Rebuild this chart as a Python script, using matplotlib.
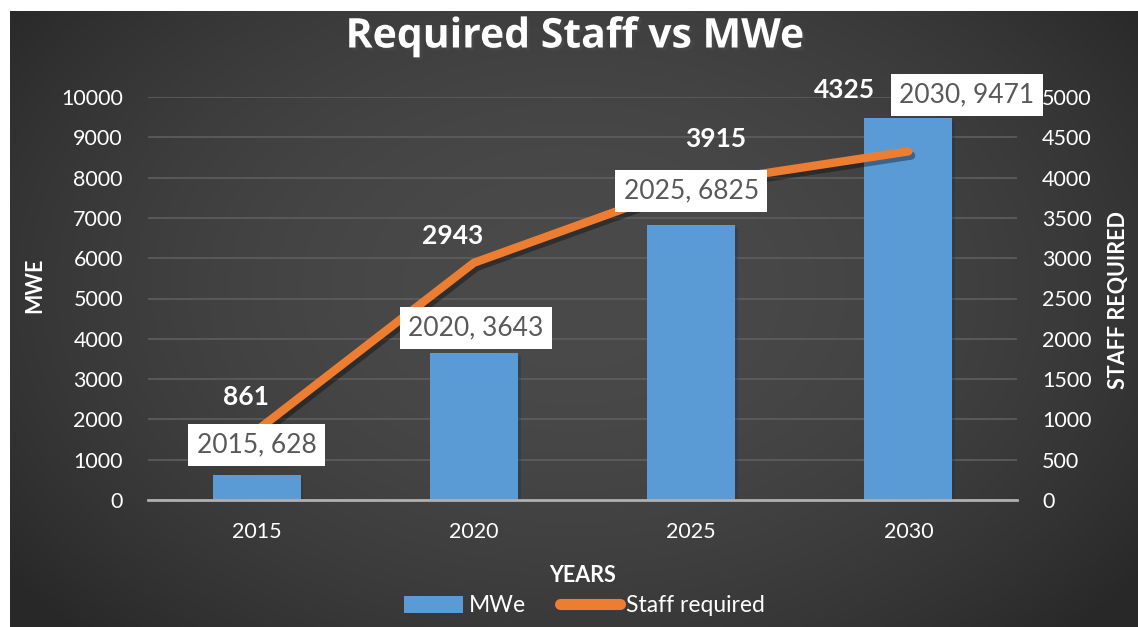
import matplotlib
matplotlib.use("Agg")
import matplotlib.pyplot as plt
import matplotlib.patheffects as pe
from matplotlib.lines import Line2D
from matplotlib.patches import Patch
import numpy as np

plt.rcParams['font.family'] = ['Lato', 'DejaVu Sans']

years = ['2015', '2020', '2025', '2030']
mwe = [628, 3643, 6825, 9471]
staff = [861, 2943, 3915, 4325]

W, H = 1138, 627
fig = plt.figure(figsize=(W / 100, H / 100), dpi=100)
fig.patch.set_facecolor('white')

# dark radial-ish background, white margin top/left
bg = fig.add_axes([10 / W, 0, 1 - 10 / W, (H - 11) / H])
bg.set_axis_off()
yy, xx = np.mgrid[0:1:300j, 0:1:600j]
r = np.sqrt(((xx - 0.5) / 0.6) ** 2 + ((yy - 0.45) / 0.75) ** 2)
g = np.clip(0.29 - 0.12 * r ** 2, 0.16, 0.3)
bg.imshow(np.dstack([g, g, g]), aspect='auto', extent=[0, 1, 0, 1], interpolation='bilinear')
bg.set_xlim(0, 1)
bg.set_ylim(0, 1)

ax = fig.add_axes([148 / W, (H - 500) / H, (1017 - 148) / W, (500 - 97) / H])
ax.patch.set_alpha(0)
x = np.arange(len(years))
ax.bar(x, mwe, width=0.405, color='#5b9bd5', zorder=2,
       path_effects=[pe.SimplePatchShadow(offset=(2, -2), alpha=0.3), pe.Normal()])
ax.set_xlim(-0.5, 3.5)
ax.set_ylim(0, 10000)
ax.set_yticks(range(0, 10001, 1000))
ax.set_xticks(x)
ax.set_xticklabels(years)
ax.grid(axis='y', color='#5e5e5e', linewidth=1.2, zorder=0)
for s in ['top', 'right', 'left']:
    ax.spines[s].set_visible(False)
ax.spines['bottom'].set_color('#b0b0b0')
ax.spines['bottom'].set_linewidth(2)
ax.spines['bottom'].set_zorder(3)
ax.tick_params(axis='y', length=0, pad=18, labelsize=15.5, labelcolor='white')
ax.tick_params(axis='x', length=0, pad=16, labelsize=15.5, labelcolor='white')

ax2 = ax.twinx()
ax2.set_ylim(0, 5000)
ax2.set_yticks(range(0, 5001, 500))
for s in ax2.spines.values():
    s.set_visible(False)
ax2.tick_params(axis='y', length=0, pad=18, labelsize=15.5, labelcolor='white')
ax2.plot(x, staff, color='#ed7d31', linewidth=6, solid_capstyle='round', zorder=4,
         path_effects=[pe.SimpleLineShadow(offset=(2, -3), alpha=0.35), pe.Normal()])

# bar labels (white boxes), drawn on top of the line
box_pos = [(0.0, 1364), (1.01, 4266), (2.0, 7663), (3.27, 10044)]
for (bx, by), yr, v in zip(box_pos, years, mwe):
    ax2.text(bx, by, f'{yr}, {v}', ha='center', va='center', fontsize=19, color='#595959',
             zorder=6, clip_on=False, transform=ax.transData,
             bbox=dict(boxstyle='square,pad=0.32', facecolor='white', edgecolor='none'))

# line labels
lab_pos = [(-0.05, 1283), (0.90, 3278), (2.115, 4485), (2.705, 5081)]
for (lx, ly), v in zip(lab_pos, staff):
    ax2.text(lx, ly, str(v), ha='center', va='center', fontsize=19, fontweight='bold',
             color='white', zorder=6, clip_on=False)

fig.text(575 / W, 1 - 37 / H, 'Required Staff vs MWe', ha='center', va='center',
         fontsize=29.5, fontweight='bold', color='white', family=['Open Sans', 'DejaVu Sans'],
         path_effects=[pe.withSimplePatchShadow(offset=(2, -2), alpha=0.5)])
fig.text(583 / W, 1 - 575 / H, 'YEARS', ha='center', va='center', fontsize=15.5,
         fontweight='bold', color='white')
fig.text(35 / W, 1 - 285 / H, 'MWE', ha='center', va='center', rotation=90,
         fontsize=15.5, fontweight='bold', color='white')
fig.text(1118 / W, 1 - 300 / H, 'STAFF REQUIRED', ha='center', va='center', rotation=90,
         fontsize=15.5, fontweight='bold', color='white')

handles = [Patch(facecolor='#5b9bd5', edgecolor='none'),
           Line2D([0], [0], color='#ed7d31', linewidth=8, solid_capstyle='round')]
fig.legend(handles, ['MWe', 'Staff required'], loc='center', ncol=2,
           bbox_to_anchor=(584 / W, 1 - 606 / H), frameon=False, fontsize=16.5,
           labelcolor='white', handlelength=2.6, handletextpad=0.25, columnspacing=1.5,
           handleheight=0.7)

fig.savefig('out.png', dpi=100, facecolor=fig.get_facecolor())
